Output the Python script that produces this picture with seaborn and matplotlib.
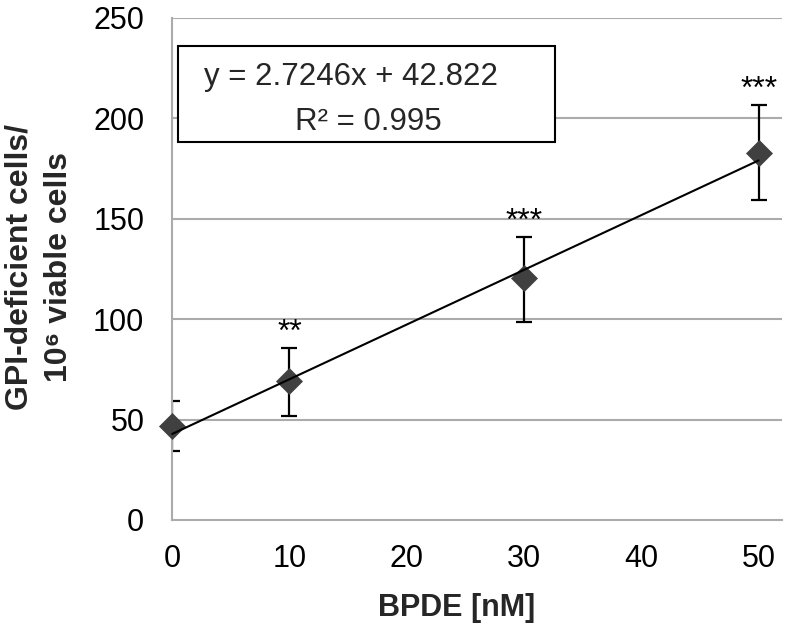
import matplotlib
matplotlib.use("Agg")
import matplotlib.pyplot as plt
import seaborn as sns
import numpy as np
import pandas as pd
from matplotlib.patches import Rectangle

# ---- data ----
bpde_nM = [0, 10, 30, 50]
gpi_mean = [47.0, 69.4, 120.4, 183.0]
err_upper = [12.0, 16.4, 20.4, 23.7]
err_lower = [12.5, 17.6, 22.0, 23.6]
significance = ["", "**", "***", "***"]
fit_slope = 2.7246
fit_intercept = 42.822
fit_r2 = 0.995
x_ticks = [0, 10, 20, 30, 40, 50]
y_ticks = [0, 50, 100, 150, 200, 250]

df = pd.DataFrame({"BPDE": bpde_nM, "GPI": gpi_mean})

sns.set_theme(style="white")
plt.rcParams["font.family"] = ["Liberation Sans", "DejaVu Sans"]

fig = plt.figure(figsize=(7.86, 6.31), dpi=100)
ax = fig.add_axes([0.219, 0.176, 0.776, 0.7955])

grid_c = "#ababab"
for yv in y_ticks[1:]:
    ax.axhline(yv, color=grid_c, lw=1.5, zorder=0)

ax.errorbar(bpde_nM, gpi_mean, yerr=[err_lower, err_upper], fmt="none",
            ecolor="black", elinewidth=1.6, capsize=5.5, capthick=1.6, zorder=2)
sns.scatterplot(data=df, x="BPDE", y="GPI", marker="D", s=175, color="#404040",
                edgecolor="#404040", linewidth=0.5, ax=ax, zorder=3, legend=False)
ax.collections[-1].set_clip_on(False)
xfit = np.array([bpde_nM[0], bpde_nM[-1]])
ax.plot(xfit, fit_slope * xfit + fit_intercept, color="black", lw=1.5, zorder=4,
        clip_on=False)

for x, m, e, s in zip(bpde_nM, gpi_mean, err_upper, significance):
    if s:
        ax.annotate(s, (x, m + e), xytext=(0, 5), textcoords="offset points",
                    ha="center", va="baseline", fontsize=23, color="black")

ax.set_xlim(0, 52)
ax.set_ylim(0, 250)
ax.set_xticks(x_ticks)
ax.set_yticks(y_ticks)
ax.tick_params(axis="both", labelsize=22, colors=grid_c, labelcolor="black",
               length=7, width=1.5, direction="out")
ax.tick_params(axis="y", pad=13)
ax.tick_params(axis="x", pad=10)
for side in ["top", "right"]:
    ax.spines[side].set_visible(False)
for side in ["left", "bottom"]:
    ax.spines[side].set_color(grid_c)
    ax.spines[side].set_linewidth(1.5)

ax.set_xlabel("BPDE [nM]", fontsize=22, fontweight="bold")
ax.xaxis.set_label_coords(0.466, -0.145)
ax.set_ylabel("GPI-deficient cells/\n10\u2076 viable cells", fontsize=23,
              fontweight="bold", linespacing=1.4)
ax.yaxis.set_label_coords(-0.161, 0.503)

# equation box
box = Rectangle((0.0093, 0.753), 0.619, 0.191, transform=ax.transAxes,
                facecolor="white", edgecolor="black", lw=1.5, zorder=5, clip_on=False)
ax.add_patch(box)
ax.text(0.293, 0.882, f"y = {fit_slope}x + {fit_intercept}", transform=ax.transAxes,
        ha="center", va="center", fontsize=22.5, zorder=6)
ax.text(0.321, 0.793, f"R\u00b2 = {fit_r2}", transform=ax.transAxes,
        ha="center", va="center", fontsize=22.5, zorder=6)

fig.savefig("out.png", dpi=100)
